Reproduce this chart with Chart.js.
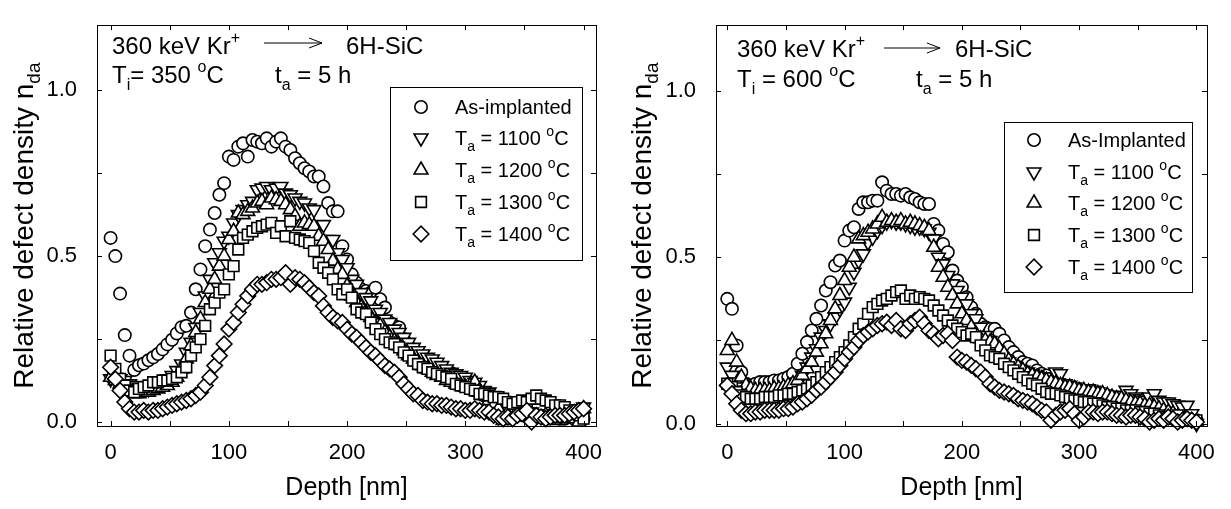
<!DOCTYPE html>
<html>
<head>
<meta charset="utf-8">
<script src="https://cdn.jsdelivr.net/npm/chart.js@4.4.1/dist/chart.umd.min.js"></script>
<style>
  html, body { margin: 0; padding: 0; background: #fff; }
  #wrap { position: relative; width: 1231px; height: 509px; overflow: hidden; }
  #c1 { position: absolute; left: 0; top: 0; }
  #c2 { position: absolute; left: 615px; top: 0; }
</style>
</head>
<body>
<div id="wrap">
  <canvas id="c1" width="615" height="509"></canvas>
  <canvas id="c2" width="616" height="509"></canvas>
</div>
<script>
// depth grid [nm], shared by all series
const depth = [
  0,4,8,12,16,20,24,28,32,36,
  40,44,48,52,56,60,64,68,72,76,
  80,84,88,92,96,100,104,108,112,116,
  120,124,128,132,136,140,144,148,152,156,
  160,164,168,172,176,180,184,188,192,196,
  200,204,208,212,216,220,224,228,232,236,
  240,244,248,252,256,260,264,268,272,276,
  280,284,288,292,296,300,304,308,312,316,
  320,324,328,332,336,340,344,348,352,356,
  360,364,368,372,376,380,384,388,392,396,
  400
];

// ---- left panel: Ti = 350 C ----
const left_asImpl = [
  0.555,0.50,0.387,0.262,0.20,0.157,0.171,0.176,0.186,0.195,
  0.205,0.219,0.234,0.248,0.267,0.286,0.29,0.33,0.40,0.46,
  0.53,0.58,0.63,0.685,0.72,0.80,0.79,0.83,0.84,0.80,
  0.85,0.845,0.84,0.855,0.83,0.845,0.855,0.83,0.82,0.795,
  0.78,0.765,0.755,0.74,0.74,0.71,0.66,0.635,0.635,0.53,
  0.49,0.445,0.42,0.40,0.395,0.39,0.405,0.37,0.345,0.30,
  0.29,0.285,0.25,0.23,0.215,0.205,0.19,0.185,0.18,0.17,
  0.16,0.152,0.148,0.13,0.12,0.11,0.10,0.095,0.085,0.08,
  0.07,0.06,0.05,0.045,0.04,0.035,0.03,0.03,0.025,0.02,
  0.02,0.015,0.01,0.02,0.015,0.01,0.01,0.015,0.01,0.01,
  0.01
];
const left_1100 = [
  0.13,0.135,0.13,0.125,0.115,0.11,0.105,0.10,0.10,0.105,
  0.11,0.12,0.13,0.14,0.155,0.175,0.21,0.24,0.285,0.33,
  0.38,0.43,0.48,0.51,0.545,0.56,0.60,0.625,0.64,0.655,
  0.665,0.70,0.705,0.71,0.70,0.705,0.71,0.69,0.685,0.675,
  0.665,0.66,0.645,0.64,0.59,0.595,0.55,0.55,0.51,0.49,
  0.465,0.43,0.415,0.39,0.375,0.365,0.34,0.33,0.31,0.30,
  0.28,0.27,0.255,0.24,0.225,0.215,0.205,0.195,0.19,0.18,
  0.17,0.16,0.15,0.145,0.14,0.135,0.125,0.12,0.11,0.095,
  0.09,0.08,0.07,0.065,0.055,0.05,0.04,0.035,0.03,0.03,
  0.025,0.025,0.02,0.025,0.02,0.025,0.03,0.025,0.035,0.04,
  0.045
];
const left_1200 = [
  0.135,0.125,0.115,0.105,0.095,0.085,0.085,0.09,0.09,0.095,
  0.10,0.105,0.11,0.12,0.135,0.16,0.19,0.23,0.27,0.31,
  0.36,0.40,0.43,0.47,0.50,0.55,0.575,0.63,0.625,0.635,
  0.645,0.66,0.665,0.655,0.675,0.67,0.665,0.655,0.64,0.62,
  0.59,0.60,0.595,0.59,0.56,0.545,0.52,0.485,0.46,0.445,
  0.41,0.38,0.36,0.345,0.33,0.315,0.30,0.29,0.27,0.255,
  0.245,0.23,0.215,0.20,0.19,0.18,0.17,0.16,0.15,0.14,
  0.135,0.125,0.12,0.115,0.11,0.105,0.11,0.12,0.095,0.08,
  0.065,0.05,0.04,0.005,0.03,0.025,0.02,0.02,0.015,0.02,
  0.015,0.01,0.02,0.015,0.005,0.01,0.02,0.03,0.01,0.0,
  0.04
];
const left_1300 = [
  0.20,0.16,0.13,0.11,0.095,0.09,0.10,0.105,0.11,0.12,
  0.12,0.125,0.125,0.13,0.135,0.15,0.165,0.20,0.225,0.25,
  0.29,0.34,0.36,0.39,0.40,0.445,0.47,0.52,0.555,0.565,
  0.575,0.585,0.59,0.595,0.60,0.57,0.59,0.56,0.605,0.555,
  0.55,0.545,0.54,0.515,0.48,0.465,0.45,0.43,0.40,0.385,
  0.40,0.375,0.34,0.33,0.325,0.30,0.28,0.265,0.25,0.24,
  0.235,0.225,0.21,0.20,0.185,0.175,0.165,0.16,0.15,0.145,
  0.14,0.135,0.13,0.115,0.11,0.105,0.10,0.095,0.085,0.085,
  0.08,0.075,0.075,0.07,0.06,0.055,0.06,0.065,0.06,0.07,
  0.08,0.07,0.065,0.06,0.05,0.05,0.045,0.035,0.025,0.02,
  0.01
];
const left_1400 = [
  0.165,0.13,0.095,0.06,0.04,0.03,0.03,0.035,0.03,0.035,
  0.035,0.04,0.045,0.05,0.055,0.06,0.065,0.07,0.08,0.09,
  0.11,0.135,0.17,0.20,0.235,0.28,0.30,0.33,0.355,0.38,
  0.40,0.415,0.415,0.42,0.43,0.43,0.435,0.45,0.415,0.435,
  0.43,0.42,0.405,0.39,0.38,0.35,0.33,0.315,0.305,0.30,
  0.28,0.265,0.255,0.24,0.225,0.21,0.20,0.185,0.17,0.16,
  0.15,0.135,0.115,0.10,0.085,0.08,0.065,0.06,0.055,0.055,
  0.05,0.05,0.045,0.04,0.04,0.035,0.035,0.04,0.035,0.03,
  0.03,0.02,0.015,0.01,0.015,0.01,0.02,0.025,0.035,0.0,
  0.02,0.015,0.01,0.015,0.02,0.02,0.02,0.025,0.03,0.035,
  0.04
];

// ---- right panel: Ti = 600 C ----
const right_asImpl = [
  0.375,0.345,0.235,0.155,0.12,0.115,0.12,0.125,0.125,0.125,
  0.13,0.13,0.135,0.14,0.15,0.18,0.21,0.245,0.28,0.315,
  0.355,0.40,0.425,0.475,0.49,0.55,0.58,0.59,0.645,0.665,
  0.665,0.67,0.67,0.725,0.70,0.69,0.69,0.685,0.69,0.68,
  0.675,0.665,0.66,0.66,0.60,0.58,0.54,0.515,0.46,0.43,
  0.41,0.38,0.35,0.33,0.30,0.29,0.285,0.285,0.27,0.25,
  0.23,0.215,0.20,0.185,0.18,0.175,0.16,0.15,0.145,0.135,
  0.125,0.12,0.115,0.105,0.10,0.095,0.09,0.085,0.08,0.075,
  0.07,0.065,0.06,0.06,0.055,0.05,0.05,0.045,0.04,0.04,
  0.035,0.03,0.03,0.025,0.025,0.02,0.02,0.02,0.015,0.015,
  0.01
];
const right_1100 = [
  0.17,0.145,0.125,0.11,0.10,0.09,0.085,0.085,0.085,0.09,
  0.09,0.095,0.10,0.105,0.11,0.125,0.145,0.17,0.20,0.225,
  0.26,0.28,0.30,0.32,0.345,0.365,0.41,0.455,0.49,0.51,
  0.545,0.56,0.58,0.595,0.605,0.61,0.605,0.605,0.60,0.595,
  0.59,0.59,0.585,0.575,0.555,0.50,0.48,0.445,0.42,0.40,
  0.38,0.36,0.33,0.315,0.29,0.265,0.25,0.225,0.21,0.195,
  0.185,0.175,0.165,0.16,0.155,0.15,0.145,0.14,0.135,0.14,
  0.155,0.15,0.12,0.115,0.11,0.105,0.10,0.105,0.10,0.095,
  0.09,0.085,0.08,0.08,0.085,0.10,0.09,0.08,0.075,0.07,
  0.08,0.09,0.07,0.065,0.065,0.06,0.055,0.05,0.055,0.03,
  0.0
];
const right_1200 = [
  0.22,0.25,0.185,0.14,0.115,0.105,0.10,0.10,0.10,0.10,
  0.105,0.105,0.11,0.115,0.12,0.13,0.145,0.165,0.185,0.215,
  0.24,0.27,0.31,0.345,0.385,0.43,0.47,0.50,0.555,0.565,
  0.575,0.585,0.60,0.62,0.605,0.61,0.605,0.61,0.60,0.605,
  0.60,0.595,0.59,0.58,0.53,0.47,0.44,0.41,0.385,0.36,
  0.33,0.31,0.29,0.27,0.255,0.25,0.245,0.24,0.225,0.21,
  0.19,0.18,0.17,0.16,0.15,0.145,0.14,0.135,0.13,0.125,
  0.12,0.115,0.11,0.11,0.105,0.10,0.10,0.095,0.095,0.09,
  0.09,0.085,0.08,0.075,0.075,0.07,0.065,0.06,0.06,0.055,
  0.055,0.05,0.045,0.04,0.035,0.03,0.02,0.015,0.01,0.01,
  0.005
];
const right_1300 = [
  0.12,0.11,0.095,0.085,0.08,0.075,0.075,0.075,0.08,0.08,
  0.08,0.085,0.085,0.09,0.09,0.095,0.10,0.105,0.115,0.125,
  0.14,0.155,0.17,0.185,0.20,0.215,0.235,0.26,0.285,0.30,
  0.33,0.35,0.36,0.37,0.375,0.385,0.395,0.40,0.375,0.385,
  0.375,0.38,0.375,0.37,0.355,0.34,0.325,0.31,0.295,0.285,
  0.275,0.265,0.27,0.26,0.235,0.22,0.205,0.20,0.195,0.18,
  0.17,0.16,0.15,0.14,0.13,0.12,0.115,0.105,0.095,0.09,
  0.09,0.085,0.08,0.075,0.07,0.07,0.065,0.065,0.06,0.06,
  0.055,0.05,0.05,0.045,0.045,0.04,0.04,0.04,0.035,0.035,
  0.03,0.03,0.025,0.02,0.015,0.02,0.025,0.01,0.015,0.01,
  0.01
];
const right_1400 = [
  0.115,0.09,0.06,0.04,0.03,0.03,0.035,0.035,0.04,0.04,
  0.04,0.04,0.045,0.045,0.05,0.06,0.065,0.075,0.085,0.10,
  0.11,0.125,0.14,0.155,0.175,0.195,0.215,0.23,0.25,0.265,
  0.275,0.285,0.295,0.30,0.305,0.295,0.31,0.285,0.28,0.30,
  0.31,0.32,0.30,0.28,0.27,0.255,0.265,0.27,0.25,0.20,
  0.19,0.185,0.175,0.165,0.155,0.14,0.12,0.11,0.10,0.095,
  0.09,0.085,0.075,0.07,0.065,0.06,0.05,0.04,0.035,0.01,
  0.025,0.035,0.04,0.045,0.03,0.01,0.02,0.035,0.035,0.03,
  0.035,0.035,0.03,0.025,0.025,0.02,0.025,0.025,0.02,0.015,
  0.005,0.01,0.015,0.01,0.02,0.015,0.005,0.01,0.015,0.01,
  0.005
];

const annealTemps = ['1100', '1200', '1300', '1400'];
const xMajor = [0, 100, 200, 300, 400];
const xMinor = [50, 150, 250, 350];
const yMajor = [0, 0.5, 1.0];
const yMinor = [0.25, 0.75];
const xTickLabels = ['0', '100', '200', '300', '400'];
const yTickLabels = ['0.0', '0.5', '1.0'];

const FONT = '"Liberation Sans", Arial, Helvetica, sans-serif';
Chart.defaults.font.family = FONT;
Chart.defaults.color = '#000';

// marker looks, in series order
const markers = [
  { pointStyle: 'circle',   rotation: 0,   radius: 6.2 },
  { pointStyle: 'triangle', rotation: 180, radius: 8 },
  { pointStyle: 'triangle', rotation: 0,   radius: 8 },
  { pointStyle: 'rect',     rotation: 0,   radius: 7.6 },
  { pointStyle: 'rectRot',  rotation: 0,   radius: 7.8 },
];
const MARK_LW = 1.6;

function fnt(size) { return size + 'px ' + FONT; }

// draws a list of [text, size, dy] pieces, returns width
function rich(ctx, segs, x, y, align) {
  let w = 0;
  segs.forEach(s => { ctx.font = fnt(s[1]); w += ctx.measureText(s[0]).width; });
  let cx = align === 'center' ? x - w / 2 : x;
  ctx.textAlign = 'left';
  ctx.textBaseline = 'alphabetic';
  segs.forEach(s => {
    ctx.font = fnt(s[1]);
    ctx.fillText(s[0], cx, y + (s[2] || 0));
    cx += ctx.measureText(s[0]).width;
  });
  return w;
}

const decor = {
  id: 'decor',
  afterDraw(chart, args, o) {
    const ctx = chart.ctx;
    const a = chart.chartArea;
    const xs = chart.scales.x, ys = chart.scales.y;
    ctx.save();
    ctx.strokeStyle = '#000';
    ctx.fillStyle = '#000';
    ctx.lineWidth = 1;

    // frame
    ctx.strokeRect(Math.round(a.left) + 0.5, Math.round(a.top) + 0.5,
      Math.round(a.right - a.left), Math.round(a.bottom - a.top));

    // inward ticks on all four sides
    const tl = 5;
    ctx.beginPath();
    xMajor.concat(xMinor).forEach(v => {
      const px = Math.round(xs.getPixelForValue(v)) + 0.5;
      ctx.moveTo(px, a.bottom); ctx.lineTo(px, a.bottom - tl);
      ctx.moveTo(px, a.top); ctx.lineTo(px, a.top + tl);
    });
    yMajor.concat(yMinor).forEach(v => {
      const py = Math.round(ys.getPixelForValue(v)) + 0.5;
      ctx.moveTo(a.left, py); ctx.lineTo(a.left + tl, py);
      ctx.moveTo(a.right, py); ctx.lineTo(a.right - tl, py);
    });
    ctx.stroke();

    // axis titles
    rich(ctx, [['Depth [nm]', 25]], (a.left + a.right) / 2, 495, 'center');
    ctx.save();
    ctx.translate(o.yTitleX, (a.top + a.bottom) / 2);
    ctx.rotate(-Math.PI / 2);
    rich(ctx, [['Relative defect density n', 28], ['da', 19, 7]], 0, 0, 'center');
    ctx.restore();

    // annotation text
    const t = o.note;
    rich(ctx, [['360 keV Kr', 24], ['+', 16, -11]], t.x, t.y1, 'left');
    ctx.beginPath();
    ctx.lineWidth = 1;
    ctx.moveTo(t.ax1, t.ay); ctx.lineTo(t.ax2, t.ay);
    ctx.moveTo(t.ax2 - 13, t.ay - 5); ctx.lineTo(t.ax2, t.ay); ctx.lineTo(t.ax2 - 13, t.ay + 5);
    ctx.stroke();
    rich(ctx, [['6H-SiC', 24]], t.sx, t.y1, 'left');
    rich(ctx, [['T', 24], ['i', 16, 7], [t.ti, 24], ['o', 16, -11], ['C', 24]], t.x, t.y2, 'left');
    rich(ctx, [['t', 24], ['a', 16, 7], [' = 5 h', 24]], t.tx, t.y2, 'left');

    // legend box
    const L = o.legend;
    ctx.lineWidth = 1;
    ctx.strokeRect(L.x1 + 0.5, L.y1 + 0.5, L.x2 - L.x1, L.y2 - L.y1);
    chart.data.datasets.forEach((ds, i) => {
      const m = markers[i];
      const yy = L.rows[i];
      ctx.fillStyle = '#fff';
      ctx.strokeStyle = '#000';
      ctx.lineWidth = MARK_LW;
      Chart.helpers.drawPoint(ctx, { pointStyle: m.pointStyle, rotation: m.rotation, radius: m.radius, borderWidth: MARK_LW }, L.mx, yy);
      ctx.fillStyle = '#000';
      if (i === 0) {
        rich(ctx, [[L.first, 20]], L.tx, yy + 7, 'left');
      } else {
        rich(ctx, [['T', 20], ['a', 14, 6], [' = ' + annealTemps[i - 1] + ' ', 20], ['o', 14, -9], ['C', 20]], L.tx, yy + 7, 'left');
      }
    });
    ctx.restore();
  }
};

function makeChart(id, series, opts) {
  const datasets = series.map((vals, i) => ({
    data: depth.map((d, k) => ({ x: d, y: vals[k] })),
    pointStyle: markers[i].pointStyle,
    rotation: markers[i].rotation,
    pointRadius: markers[i].radius,
    pointBorderWidth: MARK_LW,
    pointBorderColor: '#000',
    pointBackgroundColor: '#fff',
    showLine: false,
    order: series.length - i,
    clip: false
  }));
  return new Chart(document.getElementById(id), {
    type: 'scatter',
    data: { datasets },
    plugins: [decor],
    options: {
      responsive: false,
      animation: false,
      events: [],
      layout: { padding: { top: opts.area.top, right: opts.width - opts.area.right, left: 0, bottom: 0 } },
      scales: {
        x: {
          type: 'linear', min: opts.xMin, max: opts.xMax,
          grid: { display: false }, border: { display: false },
          afterBuildTicks: s => { s.ticks = xMajor.map(v => ({ value: v })); },
          afterFit: s => { s.height = 509 - opts.area.bottom; },
          ticks: {
            autoSkip: false, maxRotation: 0, padding: 6,
            font: { size: 22 },
            callback: v => xTickLabels[xMajor.indexOf(v)]
          }
        },
        y: {
          type: 'linear', min: opts.yMin, max: opts.yMax,
          grid: { display: false }, border: { display: false },
          afterBuildTicks: s => { s.ticks = yMajor.map(v => ({ value: v })); },
          afterFit: s => { s.width = opts.area.left; },
          ticks: {
            autoSkip: false, padding: 12,
            font: { size: 22 },
            callback: v => yTickLabels[yMajor.indexOf(v)]
          }
        }
      },
      plugins: {
        legend: { display: false },
        tooltip: { enabled: false },
        decor: opts.decor
      }
    }
  });
}

makeChart('c1', [left_asImpl, left_1100, left_1200, left_1300, left_1400], {
  width: 615,
  area: { left: 97, right: 596, top: 3, bottom: 426 },
  xMin: -11.5, xMax: 410.5, yMin: -0.012, yMax: 1.196,
  decor: {
    yTitleX: 33,
    note: { x: 112, y1: 54, y2: 83, ax1: 264, ax2: 322, ay: 43, sx: 346, ti: '= 350 ', tx: 275 },
    legend: { x1: 390, y1: 87, x2: 582, y2: 260, mx: 421, tx: 455, rows: [107, 138, 170, 202, 234], first: 'As-implanted' }
  }
});

makeChart('c2', [right_asImpl, right_1100, right_1200, right_1300, right_1400], {
  width: 616,
  area: { left: 101, right: 592, top: 8, bottom: 426 },
  xMin: -9.6, xMax: 409, yMin: -0.007, yMax: 1.197,
  decor: {
    yTitleX: 36,
    note: { x: 122, y1: 57, y2: 87, ax1: 269, ax2: 325, ay: 48, sx: 340, ti: ' = 600 ', tx: 301 },
    legend: { x1: 389, y1: 122, x2: 577, y2: 292, mx: 419, tx: 453, rows: [140, 172, 203, 235, 267], first: 'As-Implanted' }
  }
});
</script>
</body>
</html>
